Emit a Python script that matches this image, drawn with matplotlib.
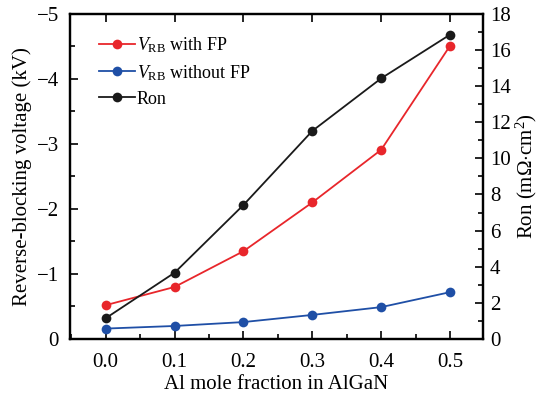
import numpy as np
import matplotlib
matplotlib.use('Agg')
import matplotlib.pyplot as plt
from matplotlib.ticker import MultipleLocator

plt.rcParams['font.family'] = 'Liberation Serif'
plt.rcParams['mathtext.fontset'] = 'custom'
plt.rcParams['mathtext.rm'] = 'Liberation Serif'
plt.rcParams['mathtext.it'] = 'Liberation Serif:italic'

# data
al_fraction = [0.0, 0.1, 0.2, 0.3, 0.4, 0.5]
vrb_with_fp = [-0.52, -0.80, -1.35, -2.10, -2.91, -4.51]
vrb_without_fp = [-0.16, -0.20, -0.26, -0.37, -0.49, -0.72]
ron = [1.15, 3.67, 7.42, 11.52, 14.43, 16.85]

RED = '#e8262b'
BLUE = '#1f4fa6'
BLACK = '#1a1a1a'

fig = plt.figure(figsize=(5.38, 3.96), dpi=100)
ax = fig.add_axes([0.130, 0.144, 0.768, 0.821])
ax2 = ax.twinx()

line_kw = dict(linewidth=1.3, marker='o', markersize=7, markeredgewidth=0)
l1, = ax.plot(al_fraction, vrb_with_fp, color=RED, label=r'$V_{\rm RB}$ with FP', **line_kw)
l2, = ax.plot(al_fraction, vrb_without_fp, color=BLUE, label=r'$V_{\rm RB}$ without FP', **line_kw)
l3, = ax2.plot(al_fraction, ron, color=BLACK, label='Ron', **line_kw)

ax.set_xlim(-0.052, 0.548)
ax.set_ylim(0, -5)
ax2.set_ylim(0, 18)

ax.xaxis.set_major_locator(MultipleLocator(0.1))
ax.xaxis.set_minor_locator(MultipleLocator(0.05))
ax.yaxis.set_major_locator(MultipleLocator(1))
ax.yaxis.set_minor_locator(MultipleLocator(0.5))
ax2.yaxis.set_major_locator(MultipleLocator(2))
ax2.yaxis.set_minor_locator(MultipleLocator(1))
ax.xaxis.set_major_formatter(plt.FormatStrFormatter('%.1f'))

fs = 15
ax.tick_params(axis='x', which='both', direction='in', top=False, labelsize=fs, pad=10)
ax.tick_params(axis='x', which='major', length=6, width=1.2)
ax.tick_params(axis='x', which='minor', length=3.5, width=1.2)
ax.tick_params(axis='y', which='both', direction='in', right=False, labelsize=fs, pad=8)
ax.tick_params(axis='y', which='major', length=6, width=1.2)
ax.tick_params(axis='y', which='minor', length=3.5, width=1.2)
ax2.tick_params(axis='y', which='both', direction='in', labelsize=fs, pad=5)
ax2.tick_params(axis='y', which='major', length=6, width=1.2)
ax2.tick_params(axis='y', which='minor', length=3.5, width=1.2)

# top ticks at major positions only
top = ax.secondary_xaxis('top')
top.set_xticks(al_fraction)
top.tick_params(direction='in', length=6, width=1.2, labeltop=False)
top.spines['top'].set_visible(False)

for a in (ax, ax2):
    for s in a.spines.values():
        s.set_linewidth(1.6)

ax.set_xlabel('Al mole fraction in AlGaN', fontsize=fs, labelpad=2)
ax.set_ylabel('Reverse-blocking voltage (kV)', fontsize=fs, labelpad=3)
ax2.set_ylabel(r'Ron (m$\Omega$$\cdot$cm$^2$)', fontsize=fs, labelpad=2)

ax.legend(handles=[l1, l2, l3], loc='upper left', frameon=False, fontsize=13,
          handlelength=2.0, handletextpad=0.1, labelspacing=0.45,
          bbox_to_anchor=(0.03, 0.985))

fig.savefig('out.png', dpi=100)
